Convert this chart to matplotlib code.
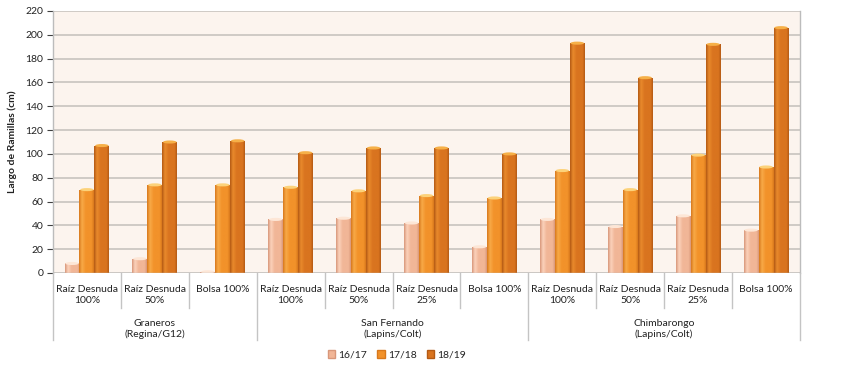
import numpy as np
import matplotlib
matplotlib.use("Agg")
import matplotlib.pyplot as plt
from matplotlib.colors import LinearSegmentedColormap
from matplotlib.patches import Ellipse, Rectangle
from matplotlib.lines import Line2D

plt.rcParams['font.family'] = ['Lato', 'DejaVu Sans']

# ---- data ----
treatments = ["Raíz Desnuda\n100%", "Raíz Desnuda\n50%", "Bolsa 100%",
              "Raíz Desnuda\n100%", "Raíz Desnuda\n50%", "Raíz Desnuda\n25%", "Bolsa 100%",
              "Raíz Desnuda\n100%", "Raíz Desnuda\n50%", "Raíz Desnuda\n25%", "Bolsa 100%"]
sites = ["Graneros\n(Regina/G12)", "San Fernando\n(Lapins/Colt)", "Chimbarongo\n(Lapins/Colt)"]
site_sizes = [3, 4, 4]
seasons = ["16/17", "17/18", "18/19"]
s1617 = [8, 12, 1, 45, 46, 42, 22, 45, 39, 48, 36]
s1718 = [70, 74, 74, 72, 69, 65, 63, 86, 70, 99, 89]
s1819 = [107, 110, 111, 101, 105, 105, 100, 193, 164, 192, 206]
yticks = list(range(0, 221, 20))

series = [s1617, s1718, s1819]
# (edge, body, highlight, cap) colours per season
palettes = [
    ("#d8977a", "#f1b697", "#fbd2bb", "#fde6d6"),
    ("#d8781c", "#f2922a", "#f8aa48", "#fcd27a"),
    ("#b45a14", "#d9741f", "#e98a2c", "#f6b048"),
]

fig = plt.figure(figsize=(8.49, 3.77), dpi=100)
ax = fig.add_axes([53/849, 1-273/377, (800-53)/849, (273-11)/377])
ax.set_facecolor("#fcf4ee")

n = len(treatments)
x = np.arange(n)
w = 0.22
ax.set_xlim(-0.5, n-0.5)
ax.set_ylim(0, 220)

grad = np.linspace(0, 1, 64).reshape(1, -1)
for k, (vals, pal) in enumerate(zip(series, palettes)):
    edge, body, hi, cap = pal
    cmap = LinearSegmentedColormap.from_list(
        f"c{k}", [(0, edge), (0.2, hi), (0.45, body), (0.85, body), (1, edge)])
    bars = ax.bar(x + (k-1)*w, vals, width=w, color=body, zorder=3, linewidth=0)
    for b in bars:
        bx, by, bw, bh = b.get_x(), b.get_y(), b.get_width(), b.get_height()
        im = ax.imshow(grad, cmap=cmap, aspect="auto", extent=(bx, bx+bw, by, by+bh),
                       zorder=3.1, interpolation="bilinear")
        im.set_clip_path(b)
        ax.add_patch(Ellipse((bx+bw/2, by+bh), bw*0.9, 2.6, facecolor=cap,
                             edgecolor="none", zorder=3.2))

ax.set_xlim(-0.5, n-0.5)
ax.set_ylim(0, 220)
ax.set_yticks(yticks)
ax.tick_params(axis="y", labelsize=7.5, colors="#404040", length=4, width=0.8,
               direction="out", pad=3)
for lab in ax.get_yticklabels():
    lab.set_color("#222222")
ax.set_xticks([])
ax.grid(axis="y", color="#c8c3bf", linewidth=1.2, zorder=1)
for s in ["top", "bottom"]:
    ax.spines[s].set_visible(False)
for s in ["left", "right"]:
    ax.spines[s].set_color("#bcbcbc")
    ax.spines[s].set_linewidth(1)
ax.axhline(0, color="#bcbcbc", linewidth=1, zorder=4)
ax.set_ylabel("Largo de Ramillas (cm)", fontsize=7.5, fontweight="bold",
              color="#222222", labelpad=6)

# category labels and separators below the axis
trans = ax.get_xaxis_transform()
y0 = 273
def fy(py):
    return 1 - py/377

for i, t in enumerate(treatments):
    fig.text((53 + (i+0.5)*(747/n))/849, fy(285), t, ha="center", va="top",
             fontsize=7.5, color="#222222", linespacing=1.25)

bounds = np.cumsum([0] + site_sizes)
group_edges = set(bounds.tolist())
for b in range(n+1):
    xf = (53 + b*747/n)/849
    bottom = 340 if b in group_edges else 308
    fig.add_artist(Line2D([xf, xf], [fy(273), fy(bottom)], color="#c4c4c4",
                          linewidth=1, transform=fig.transFigure))

for s, a, bb in zip(sites, bounds[:-1], bounds[1:]):
    xc = (53 + (a+bb)/2*747/n)/849
    fig.text(xc, fy(319), s, ha="center", va="top", fontsize=7.5,
             color="#222222", linespacing=1.25)

handles = [Rectangle((0, 0), 1, 1, facecolor=p[1], edgecolor=p[0]) for p in palettes]
fig.legend(handles, seasons, loc="center", bbox_to_anchor=(397/849, fy(355)),
           ncol=3, frameon=False, fontsize=7.5, handlelength=0.7, handleheight=0.7,
           handletextpad=0.3, columnspacing=1.0, labelcolor="#222222")

fig.savefig("out.png", dpi=100)
